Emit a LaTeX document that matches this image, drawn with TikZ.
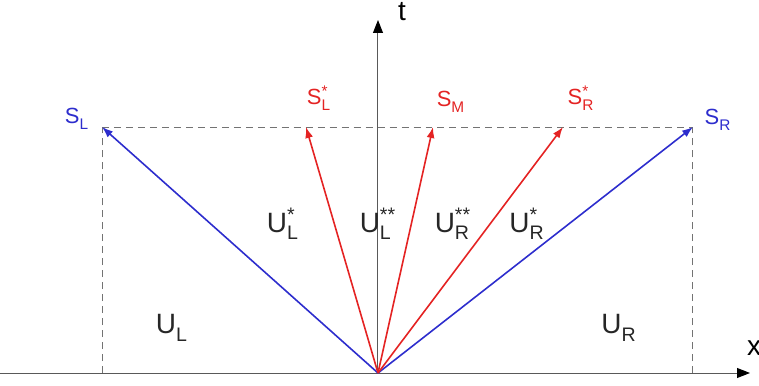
\documentclass[tikz,border=0pt]{standalone}
\usepackage{fontspec}
\setmainfont{Liberation Sans}
\usepackage{amsmath}
\usetikzlibrary{arrows.meta}
\definecolor{wblue}{RGB}{45,45,205}
\definecolor{wred}{RGB}{228,35,35}
\newcommand{\wlab}[3]{#1$_{\text{#2}}^{\text{#3}}$}

\begin{document}
\begin{tikzpicture}[scale=0.88,
  axis/.style={draw=black!65, line width=0.5pt, -{Triangle[length=6.5pt,width=5pt,color=black]}},
  guide/.style={draw=black!55, line width=0.5pt, dash pattern=on 3.5pt off 2.5pt},
  wave/.style={line width=0.8pt, -{Latex[length=5.5pt,width=4pt]}},
  slab/.style={font=\fontsize{11}{13}\selectfont},
  ulab/.style={font=\fontsize{14}{16}\selectfont, text=black!85}]
\useasboundingbox (-7.56,-0.24) rectangle (7.62,7.46);
\coordinate (O) at (0,0);
\coordinate (xl) at (-7.56,0);
\coordinate (xr) at (7.44,0);
\coordinate (tt) at (0,7.06);
\coordinate (SLp) at (-5.52,4.92);
\coordinate (SRp) at (6.3,4.92);
\coordinate (SLsp) at (-1.44,4.92);
\coordinate (SMp) at (1.1,4.92);
\coordinate (SRsp) at (3.7,4.92);
\coordinate (SLb) at (-5.52,0);
\coordinate (SRb) at (6.3,0);

\draw[guide] (SLp) -- (SRp);
\draw[guide] (SLb) -- (SLp);
\draw[guide] (SRb) -- (SRp);
\draw[axis] (xl) -- (xr);
\draw[axis] (O) -- (tt);
\node[font=\fontsize{14}{16}\selectfont] (x) at (7.52,0.5) {x};
\node[font=\fontsize{14}{16}\selectfont] (t) at (0.48,7.22) {t};

\draw[wave,wblue] (O) -- (SLp);
\draw[wave,wblue] (O) -- (SRp);
\draw[wave,wred] (O) -- (SLsp);
\draw[wave,wred] (O) -- (SMp);
\draw[wave,wred] (O) -- (SRsp);

\node[slab,wblue] (sl) at (-6.02,5.08) {\wlab{S}{L}{}};
\node[slab,wblue] (sr) at (6.8,5.06) {\wlab{S}{R}{}};
\node[slab,wred] (sls) at (-1.18,5.5) {\wlab{S}{L}{*}};
\node[slab,wred] (sm) at (1.46,5.42) {\wlab{S}{M}{}};
\node[slab,wred] (srs) at (4.06,5.5) {\wlab{S}{R}{*}};

\node[ulab] (ul) at (-4.12,0.9) {\wlab{U}{L}{}};
\node[ulab] (ur) at (4.82,0.9) {\wlab{U}{R}{}};
\node[ulab] (uls) at (-1.9,2.98) {\wlab{U}{L}{*}};
\node[ulab] (ulss) at (0,2.98) {\wlab{U}{L}{**}};
\node[ulab] (urss) at (1.5,2.98) {\wlab{U}{R}{**}};
\node[ulab] (urs) at (2.98,2.98) {\wlab{U}{R}{*}};
\end{tikzpicture}
\end{document}
